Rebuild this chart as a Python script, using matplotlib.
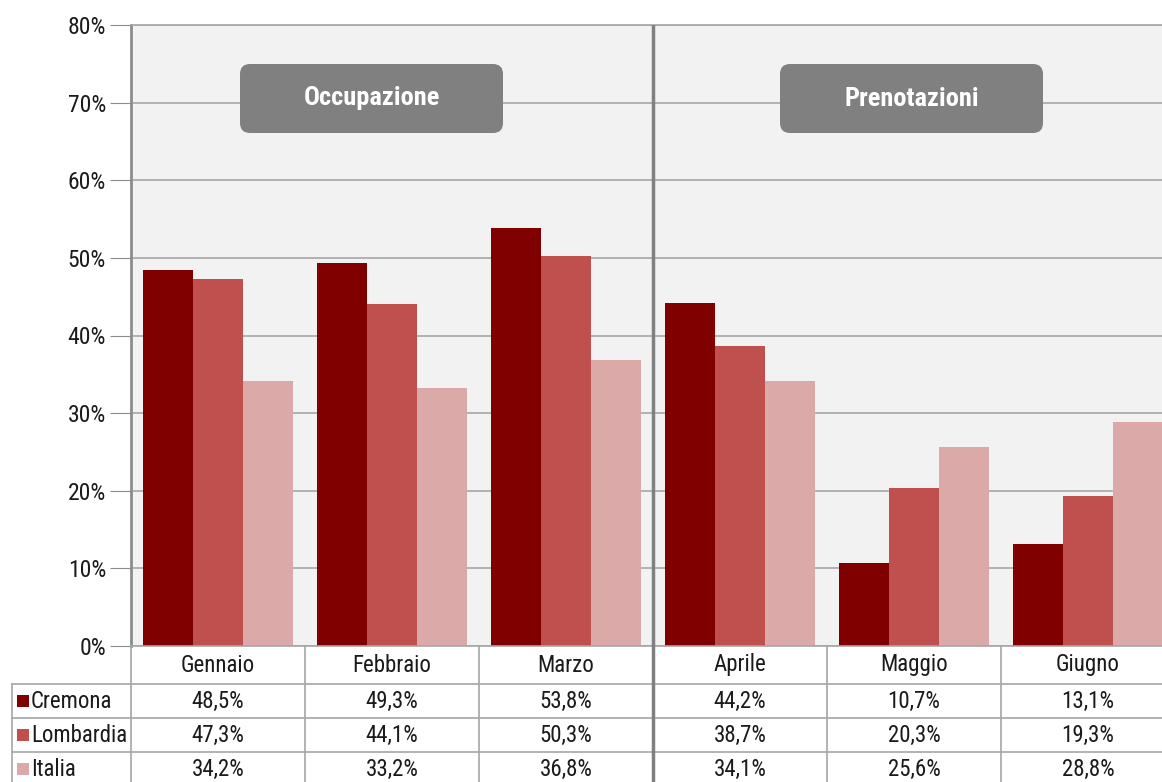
import numpy as np
import matplotlib
matplotlib.use("Agg")
import matplotlib.pyplot as plt
from matplotlib.patches import FancyBboxPatch, Rectangle
from matplotlib.transforms import Affine2D

FONT = ['Roboto Condensed', 'Liberation Sans', 'DejaVu Sans']
plt.rcParams['font.family'] = FONT

months = ["Gennaio", "Febbraio", "Marzo", "Aprile", "Maggio", "Giugno"]
series = ["Cremona", "Lombardia", "Italia"]
cremona = [48.5, 49.3, 53.8, 44.2, 10.7, 13.1]
lombardia = [47.3, 44.1, 50.3, 38.7, 20.3, 19.3]
italia = [34.2, 33.2, 36.8, 34.1, 25.6, 28.8]
colors = ["#800000", "#c0504d", "#dba9a8"]
yticks = [0, 10, 20, 30, 40, 50, 60, 70, 80]
section_labels = ["Occupazione", "Prenotazioni"]

FW, FH = 1162, 782
fig = plt.figure(figsize=(FW / 100, FH / 100), dpi=100)
pix = Affine2D().scale(1 / 100) + fig.dpi_scale_trans

catw = 174
L = 131 / FW
W = 6 * catw / FW
ax = fig.add_axes([L, 136 / FH, W, 621 / FH])
ax.set_facecolor("#f2f2f2")
x = np.arange(len(months))
bw = 50 / catw
for k, (vals, c) in enumerate(zip([cremona, lombardia, italia], colors)):
    ax.bar(x + (k - 1) * bw, np.array(vals) / 100, bw, color=c, zorder=2)
ax.set_xlim(-0.5, 5.5)
ax.set_ylim(0, 0.8)
ax.set_yticks([v / 100 for v in yticks])
ax.set_yticklabels([f"{v}%" for v in yticks])
ax.set_xticks([])
ax.yaxis.grid(True, color="#a6a6a6", lw=1.2, zorder=1)
ax.set_axisbelow(True)
ax.spines["right"].set_visible(False)
ax.spines["left"].set_color("#8c8c8c")
ax.spines["left"].set_linewidth(2)
ax.spines["top"].set_color("#a6a6a6")
ax.spines["top"].set_linewidth(1.2)
ax.spines["bottom"].set_color("#a6a6a6")
ax.spines["bottom"].set_linewidth(1.2)
ax.tick_params(axis="y", length=15, color="#8c8c8c", pad=3, labelsize=17, labelcolor="#1a1a1a")
ax.axvline(2.5, color="#808080", lw=2.5, zorder=3)

# Section label boxes
boxes = [(240, 649, 263, 69), (780, 649, 263, 69)]
for (bx, by, bwid, bh), lab in zip(boxes, section_labels):
    p = FancyBboxPatch((bx, by), bwid, bh, boxstyle="round,pad=0,rounding_size=10",
                       transform=pix, fc="#808080", ec="none", zorder=5)
    fig.add_artist(p)
    fig.text(bx + bwid / 2, by + bh / 2, lab, transform=pix, ha="center", va="center",
             color="white", fontsize=19, fontweight="bold", zorder=6)

# Table
axt = fig.add_axes([L, -4 / FH, W, 140 / FH])
axt.set_xlim(-0.5, 5.5)
axt.set_ylim(786, 646)
axt.axis("off")
grid_c = "#a6a6a6"
rows = [646, 684, 718, 752, 786]
legend_x0 = (12 - 131) / catw - 0.5
for yb in rows[1:-1]:
    axt.plot([legend_x0, 5.5], [yb, yb], color=grid_c, lw=1.2, clip_on=False)
axt.plot([legend_x0, legend_x0], [684, 786], color=grid_c, lw=1.2, clip_on=False)
for xb in [-0.5, 0.5, 1.5, 3.5, 4.5]:
    axt.plot([xb, xb], [646, 786], color=grid_c, lw=1.2, clip_on=False)
axt.plot([2.5, 2.5], [646, 786], color="#808080", lw=2.5, clip_on=False)

fs = 16.5
for i, m in enumerate(months):
    axt.text(i, (rows[0] + rows[1]) / 2, m, ha="center", va="center", fontsize=fs, color="#1a1a1a")
for r, (name, vals, c) in enumerate(zip(series, [cremona, lombardia, italia], colors)):
    yc = (rows[r + 1] + rows[r + 2]) / 2
    for i, v in enumerate(vals):
        axt.text(i, yc, f"{v:.1f}%".replace(".", ","), ha="center", va="center",
                 fontsize=fs, color="#1a1a1a")
    sq = Rectangle((17, FH - yc - 6), 12, 12, transform=pix, fc=c, ec="none")
    fig.add_artist(sq)
    fig.text(31, FH - yc, name, transform=pix, ha="left", va="center", fontsize=fs, color="#1a1a1a")

fig.savefig("out.png", dpi=100)
